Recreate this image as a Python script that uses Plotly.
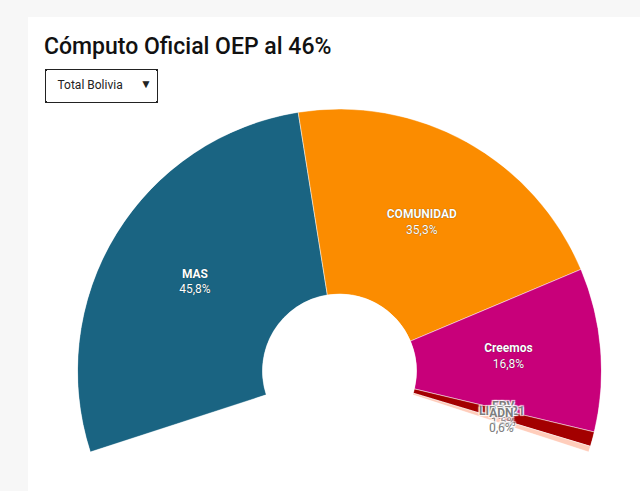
import plotly.graph_objects as go

# ---- data ----
parties = ["MAS", "COMUNIDAD", "Creemos", "FPV", "LIBRE21", "ADN"]
values = [45.8, 35.3, 16.8, 1.5, 0.0, 0.6]
colors = ["#1a6482", "#fb8c00", "#c8007a", "#a30000", "#ffcdbb", "#ffcdbb"]
title_text = "Cómputo Oficial OEP al 46%"
selector_label = "Total Bolivia"

W, H = 640, 491
START = -108.0   # clockwise from top
SWEEP = 216.0

# angular scale computed from values
total = sum(values)
thetas, widths = [], []
acc = 0.0
for v in values:
    w = SWEEP * v / total
    thetas.append(START + SWEEP * acc / total + w / 2)
    widths.append(w)
    acc += v

fig = go.Figure()
fig.add_trace(go.Barpolar(
    r=[1] * len(values), theta=thetas, width=widths, base=0,
    marker=dict(color=colors, line=dict(color="rgba(255,255,255,0.8)", width=0.6)),
    hoverinfo="skip", showlegend=False,
))

def pct(v):
    return f"{v:.1f}".replace(".", ",") + "%"

big = [i for i, v in enumerate(values) if v >= 5]
small = [i for i, v in enumerate(values) if v < 5]

LABEL_R = 0.5
fig.add_trace(go.Scatterpolar(
    r=[LABEL_R] * len(big), theta=[thetas[i] for i in big], mode="text",
    text=[f"<b>{parties[i]}</b><br>{pct(values[i])}" for i in big],
    textfont=dict(family="Roboto", size=12, color="white",
                  shadow="0px 0px 1px rgba(0,0,0,0.6)"),
    hoverinfo="skip", showlegend=False,
))
for i in small:
    fig.add_trace(go.Scatterpolar(
        r=[LABEL_R], theta=[thetas[i]], mode="text",
        text=[f"<b>{parties[i]}</b><br>{pct(values[i])}"],
        textfont=dict(family="Roboto", size=12, color="rgba(110,110,110,0.9)",
                      shadow="1px 1px 1px white, -1px -1px 1px white, 1px -1px 1px white, -1px 1px 1px white"),
        hoverinfo="skip", showlegend=False,
    ))

R = 262.0
cx, cy = 339.5, 371.0
ymin_frac = 0.309
fig.update_layout(
    width=W, height=H, autosize=False,
    margin=dict(l=0, r=0, t=0, b=0),
    paper_bgcolor="#f7f7f7",
    polar=dict(
        domain=dict(x=[(cx - R) / W, (cx + R) / W],
                    y=[1 - (cy + R * ymin_frac) / H, 1 - (cy - R) / H]),
        sector=[90 - (START + SWEEP), 90 - START],
        hole=0.294,
        bgcolor="rgba(0,0,0,0)",
        angularaxis=dict(direction="clockwise", rotation=90, showline=False,
                         showticklabels=False, ticks="", showgrid=False),
        radialaxis=dict(range=[0, 1], showline=False, showticklabels=False,
                        ticks="", showgrid=False),
    ),
    title=dict(text=title_text, x=44 / W, xanchor="left", xref="container",
               y=1 - 46 / H, yanchor="middle", yref="container",
               font=dict(family="Roboto", size=23, color="#111", weight=500)),
    shapes=[dict(type="rect", xref="paper", yref="paper", x0=28 / W, x1=1,
                 y0=0, y1=1 - 17 / H, fillcolor="white", line=dict(width=0),
                 layer="below")],
    updatemenus=[dict(
        type="dropdown",
        buttons=[dict(label=selector_label + "\u00a0\u00a0", method="skip", args=[None])],
        x=44 / W, y=1 - 68 / H, xanchor="left", yanchor="top",
        bgcolor="white", bordercolor="#222", borderwidth=1.5,
        font=dict(family="Roboto", size=12, color="#222"),
        showactive=False, pad=dict(t=0, l=0, r=0, b=0),
    )],
)

fig.write_html("out.html")
